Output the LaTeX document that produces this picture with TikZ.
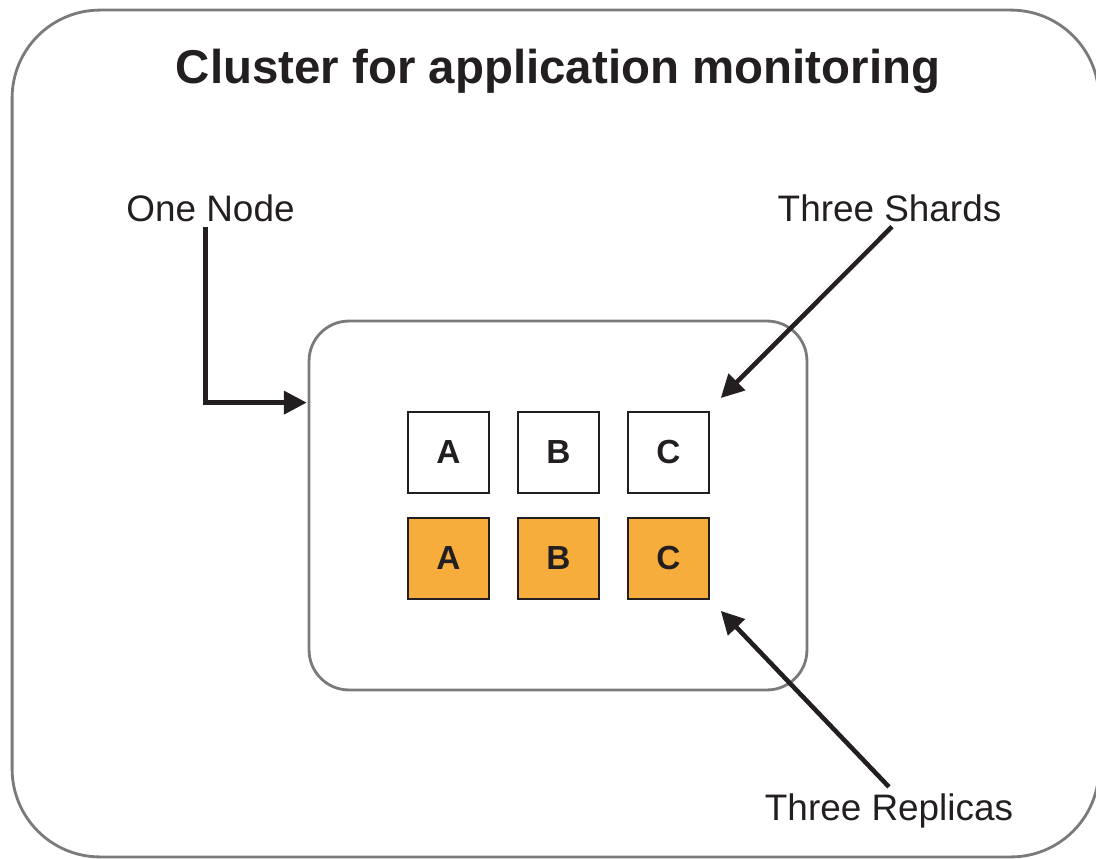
\documentclass[tikz,border=0pt]{standalone}
\usepackage{fontspec}
\setmainfont{Liberation Sans}
\usepackage{xcolor}
\usepackage{tikz}
\usetikzlibrary{positioning, arrows.meta}
\definecolor{shardorange}{HTML}{F6AD3C}
\definecolor{framegray}{HTML}{7A7A7A}
\definecolor{inkblack}{HTML}{231F20}
\tikzstyle{frame} = [draw=framegray, line width=1.6pt, inner sep=0pt]
\tikzstyle{arrow} = [line width=2.6pt, draw=inkblack, -{Triangle[length=13pt, width=13pt]}]

\begin{document}
\begin{tikzpicture}[x=0.02cm, y=-0.02cm, text=inkblack,
    shard/.style={rectangle, draw=inkblack, line width=1.1pt, minimum size=1.62cm, inner sep=0pt, font=\fontsize{19}{22}\selectfont\bfseries},
    replica/.style={shard, fill=shardorange},
    label/.style={font=\fontsize{21}{25}\selectfont, inner sep=0.2cm}]
    \useasboundingbox (0,0) rectangle (1096,859);

    % Outer cluster frame and title
    \node[frame, rounded corners=1.76cm, minimum width=21.74cm, minimum height=16.94cm] (cluster) at (555.5,433.5) {};
    \node[anchor=base, font=\fontsize{27}{32}\selectfont\bfseries] (title) at (558,83) {Cluster for application monitoring};

    % Inner node frame
    \node[frame, rounded corners=0.8cm, minimum width=9.96cm, minimum height=7.38cm] (nodebox) at (558,505.5) {};

    % Shards (top row)
    \node[shard] (sa) at (448.5,452.5) {A};
    \node[shard, right=0.54cm of sa] (sb) {B};
    \node[shard, right=0.54cm of sb] (sc) {C};

    % Replicas (bottom row)
    \node[replica, below=0.46cm of sa] (ra) {A};
    \node[replica, below=0.46cm of sb] (rb) {B};
    \node[replica, below=0.46cm of sc] (rc) {C};

    % Labels
    \node[label, anchor=base] (nodelabel) at (210.5,221) {One Node};
    \node[label, anchor=base] (shardlabel) at (889.5,221) {Three Shards};
    \node[label, anchor=base] (replicalabel) at (889,820) {Three Replicas};

    % Arrows
    \draw[arrow] ([xshift=-0.1cm, yshift=0.1cm]nodelabel.south) |- ([xshift=-0.02cm, yshift=-1.66cm]nodebox.north west);
    \draw[arrow] ([xshift=0.05cm, yshift=0.1cm]shardlabel.south) -- ([shift={(0.22cm,0.26cm)}]sc.north east);
    \draw[arrow] ([yshift=-0.08cm]replicalabel.north) -- ([shift={(0.22cm,-0.22cm)}]rc.south east);

\end{tikzpicture}
\end{document}
